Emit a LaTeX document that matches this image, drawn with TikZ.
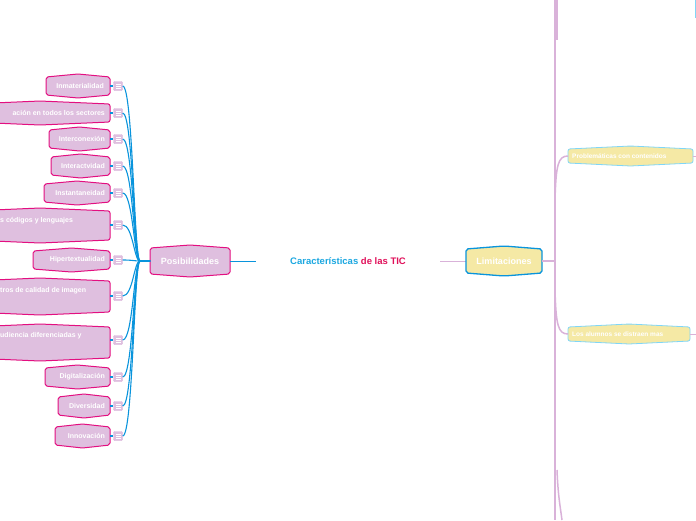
\documentclass[tikz,border=0pt]{standalone}
\usepackage{fontspec}
\setmainfont{Liberation Sans}
\begin{document}
\begin{tikzpicture}[x=1pt,y=-1pt,
  lbl/.style={font=\bfseries\fontsize{7}{8}\selectfont,text=white,inner sep=0pt},
  pbox/.style={draw=magenta!80!purple,fill=violet!25,line width=1pt,rounded corners=2pt},
  ybox/.style={draw=cyan!50,fill=yellow!60!brown!40,line width=0.8pt,rounded corners=2pt},
  icon/.style={draw=violet!30,fill=violet!25,rounded corners=1pt,minimum width=9pt,minimum height=9pt,inner sep=0pt},
  bl/.style={draw=cyan!80!blue,line width=1.1pt},
  pl/.style={draw=violet!30,line width=1.5pt}]
\useasboundingbox (0,0) rectangle (696,520);
\clip (0,0) rectangle (696,520);
% hex helper: \hx{x1}{x2}{y1}{y2}{style}
\newcommand{\hx}[5]{\path[#5] (#1,#3) -- ({(#1+#2)/2},#3-3) -- (#2,#3) -- (#2,#4) -- ({(#1+#2)/2},#4+3) -- (#1,#4) -- cycle;}
% left children
\hx{46}{110}{77}{95}{pbox}
\node[lbl,anchor=east] (n1) at (104,86) {Inmaterialidad};
\hx{-30}{110}{104}{122}{pbox}
\node[lbl,anchor=east] (n2) at (105,113) {ación en todos los sectores};
\hx{49}{110}{130}{148}{pbox}
\node[lbl,anchor=east] (n3) at (105,139) {Interconexión};
\hx{51}{110}{157}{175}{pbox}
\node[lbl,anchor=east] (n4) at (105,166) {Interactvidad};
\hx{44}{110}{184}{202}{pbox}
\node[lbl,anchor=east] (n5) at (105,193) {Instantaneidad};
\hx{-30}{110}{211}{240}{pbox}
\node[lbl,anchor=west] (n6) at (0,221) {s códigos y lenguajes};
\hx{33}{110}{251}{269}{pbox}
\node[lbl,anchor=east] (n7) at (105,260) {Hipertextualidad};
\hx{-30}{110}{281}{312}{pbox}
\node[lbl,anchor=west] (n8) at (0,291) {tros de calidad de imagen};
\hx{-30}{110}{327}{358}{pbox}
\node[lbl,anchor=west] (n9) at (0,336) {udiencia diferenciadas y};
\hx{45}{110}{368}{386}{pbox}
\node[lbl,anchor=east] (n10) at (105,377) {Digitalización};
\hx{58}{110}{397}{415}{pbox}
\node[lbl,anchor=east] (n11) at (105,406) {Diversidad};
\hx{55}{110}{427}{445}{pbox}
\node[lbl,anchor=east] (n12) at (105,436) {Innovación};
% icons and connectors
\hx{150}{230}{248}{274}{pbox}
\node[lbl,font=\bfseries\fontsize{9}{10}\selectfont] (P) at (190,261) {Posibilidades};
\coordinate (Pw) at (150,261);
\coordinate (Pe) at (230,261);
\foreach \i/\y in {1/86,2/113,3/139,4/166,5/193,6/225,7/260,8/296,9/340,10/377,11/406,12/436}{
  \node[icon] (i\i) at (118,\y) {};
  \draw[white,line width=0.5pt] (115.5,\y-2) -- (120.5,\y-2) (115.5,\y) -- (120.5,\y) (115.5,\y+2) -- (120.5,\y+2);
  \draw[bl] (110,\y) -- (i\i.west);
  \draw[bl] (Pw) -- (140,261) .. controls (134,261) and (133,\y) .. (i\i.east);
}
% center
\node[inner sep=0pt,font=\bfseries\fontsize{9.5}{11}\selectfont] (C) at (348,261) {\textcolor[HTML]{1BA7E0}{Características} \textcolor[HTML]{E0105A}{de las TIC}};
\draw[bl,line width=0.8pt] (Pe) -- (256,261);
\draw[pl,line width=1pt] (440,261) -- (466,261);
\hx{466}{542}{249}{273}{ybox,draw=cyan!80!blue,line width=1.3pt}
\node[lbl,font=\bfseries\fontsize{9}{10}\selectfont] (L) at (504,261) {Limitaciones};
\coordinate (Le) at (542,261);
\draw[pl,line width=2.5pt] (Le) -- (555,261);
\draw[pl,line width=2.5pt] (555,0) -- (555,520);
\hx{568}{693}{149}{163}{ybox}
\node[lbl,anchor=west,font=\bfseries\fontsize{6.5}{7}\selectfont] (r1) at (572,156) {Problemáticas con contenidos};
\hx{568}{690}{327}{341}{ybox}
\node[lbl,anchor=west,font=\bfseries\fontsize{6.5}{7}\selectfont] (r2) at (572,334) {Los alumnos se distraen mas};
\draw[pl] (555,200) .. controls (556,165) and (558,156) .. (568,156);
\draw[pl] (555,290) .. controls (556,325) and (558,334) .. (568,334);
\draw[pl] (557,0) -- (557,40);
\draw[pl] (557,470) .. controls (558,495) and (560,505) .. (562,520);
\draw[pl,line width=1pt] (693,156) -- (696,156);
\draw[pl,line width=1pt] (690,334) -- (696,334);
\draw[cyan!50,line width=1pt] (695,0) -- (695,18);
\end{tikzpicture}
\end{document}
